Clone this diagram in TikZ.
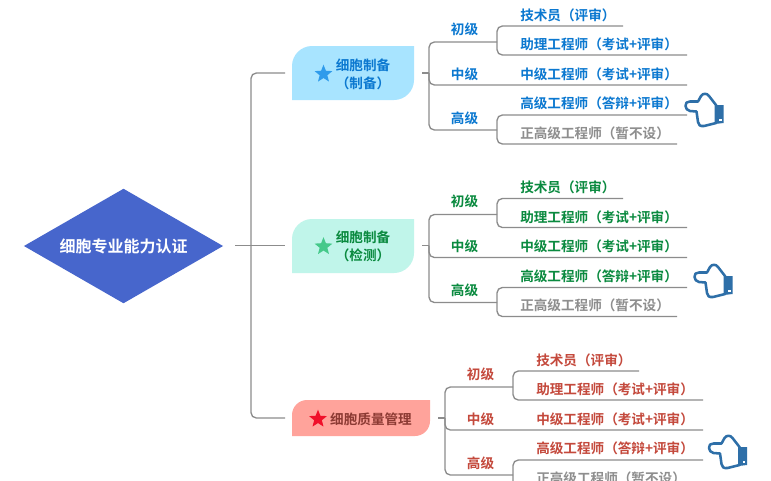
\documentclass[tikz,border=0pt]{standalone}
\usepackage{fontspec}
\setmainfont{Noto Sans CJK SC}[BoldFont={Noto Sans CJK SC Bold}]
\usetikzlibrary{shapes.geometric}
\definecolor{linegray}{HTML}{8C8C8C}
\definecolor{leafgray}{HTML}{8E8E8E}
\definecolor{blueT}{HTML}{0B78D0}
\definecolor{greenT}{HTML}{0A8A3F}
\definecolor{redT}{HTML}{C4493C}
\definecolor{handblue}{HTML}{2E6FA8}
\definecolor{rootfill}{RGB}{71,102,204}
\definecolor{boxA}{RGB}{168,228,255}
\definecolor{boxB}{RGB}{192,245,234}
\definecolor{boxC}{RGB}{255,163,155}
\tikzset{
  conn/.style={draw=linegray,line width=1pt,rounded corners=4pt},
  leaf/.style={anchor=west,inner sep=0pt,font=\fontsize{10.2}{12}\selectfont\bfseries},
  lvl/.style={anchor=center,inner sep=0pt,font=\fontsize{10.2}{12}\selectfont\bfseries},
  boxtext/.style={inner sep=0pt,align=center,font=\fontsize{10.2}{13.5}\selectfont\bfseries},
  starmark/.style={star,star points=5,star point ratio=2.3,inner sep=0pt,minimum size=14pt},
}
% #1 prefix, #2 colour, #3 shift
\newcommand{\branches}[3]{%
\begin{scope}[shift={#3}]
  \coordinate (#1stub) at (422,73);
  \coordinate (#1sp) at (429,73);
  \coordinate (#1top) at (429,42);
  \coordinate (#1bot) at (429,130);
  \coordinate (#1mid) at (429,85);
  \coordinate (#1a) at (497,42);
  \coordinate (#1c) at (497,130);
  \coordinate (#1e1) at (623,26);
  \coordinate (#1e2) at (687,55);
  \coordinate (#1e3) at (687,85);
  \coordinate (#1e4) at (687,115);
  \coordinate (#1e5) at (677,144);
  \draw[conn] (#1stub) -- (#1sp);
  \draw[conn] (#1a) -- (#1top) -- (#1bot) -- (#1c);
  \draw[conn] (#1sp) -- (#1mid) -- (#1e3);
  \draw[conn] (#1e1) -- (#1a |- #1e1) -- (#1a |- #1e2) -- (#1e2);
  \draw[conn] (#1e4) -- (#1c |- #1e4) -- (#1c |- #1e5) -- (#1e5);
  \node[lvl,text=#2] (#1L1) at (464.5,29) {初级};
  \node[lvl,text=#2] (#1L2) at (464.5,74) {中级};
  \node[lvl,text=#2] (#1L3) at (464.5,118) {高级};
  \node[leaf,text=#2] (#1n1) at (520,15) {技术员（评审）};
  \node[leaf,text=#2] (#1n2) at (520,44.5) {助理工程师（考试+评审）};
  \node[leaf,text=#2] (#1n3) at (520,74) {中级工程师（考试+评审）};
  \node[leaf,text=#2] (#1n4) at (520,103.5) {高级工程师（答辩+评审）};
  \node[leaf,text=leafgray] (#1n5) at (520,133) {正高级工程师（暂不设）};
\end{scope}}
% box with two rounded corners: #1 colour, #2 left, #3 top, #4 right, #5 bottom, #6 radius
\newcommand{\leafbox}[6]{%
  \fill[#1] (#2,#5) -- (#2,#3+#6) .. controls (#2,#3+0.45*#6) and (#2+0.45*#6,#3) .. (#2+#6,#3)
    -- (#4,#3) -- (#4,#5-#6) .. controls (#4,#5-0.45*#6) and (#4-0.45*#6,#5) .. (#4-#6,#5) -- cycle;}
% hand icon: #1 = shift
\newcommand{\handicon}[1]{%
\begin{scope}[shift={#1}]
  \draw[handblue,line width=1.9pt,fill=white,line join=round]
    (46.5,25) .. controls (46,22) and (48,20.5) .. (51,20.5)
    -- (59,20.5) -- (62,15) .. controls (64,12) and (68,12) .. (70,15)
    -- (77,24) -- (77,42) -- (65,45) .. controls (61,45.5) and (59.5,44) .. (59,41)
    -- (57.5,30.5) -- (51,30) .. controls (48,29.5) and (47,27.5) .. (46.5,25) -- cycle;
  \fill[handblue] (76,24) -- (84.5,24) -- (84.5,42) -- (76,43) -- cycle;
  \fill[white] (80,37.5) rectangle (82.5,40);
\end{scope}}
\begin{document}
\begin{tikzpicture}[x=0.75pt,y=-0.75pt]
\clip (0,0) rectangle (771,480);
\fill[white] (0,0) rectangle (771,480);
% root
\node[diamond,shape aspect=1.287,inner sep=0pt,minimum width=149.5pt,fill=rootfill,text=white,font=\fontsize{12}{14}\selectfont\bfseries] (root) at (123.5,246) {细胞专业能力认证};
% spine
\coordinate (rs) at (235,245.5);
\coordinate (re) at (285,245.5);
\coordinate (st) at (285,73);
\coordinate (sb) at (285,418);
\coordinate (sx) at (251,245.5);
\draw[conn] (rs) -- (re);
\draw[conn] (st) -- (sx |- st) -- (sx |- sb) -- (sb);
% group 1
\leafbox{boxA}{292}{46}{414}{100}{20}
\node[starmark,fill={rgb,255:red,47;green,155;blue,235}] (s1) at (323.5,74) {};
\node[boxtext,text=blueT] (b1) at (363,74.2) {细胞制备\\（制备）};
\branches{a}{blueT}{(0,0)}
\handicon{(639,81)}
% group 2
\leafbox{boxB}{292}{219}{414}{273}{20}
\node[starmark,fill={rgb,255:red,69;green,201;blue,138}] (s2) at (323.5,246.5) {};
\node[boxtext,text=greenT] (b2) at (363,246.5) {细胞制备\\（检测）};
\branches{b}{greenT}{(0,172.5)}
\handicon{(648,252)}
% group 3
\leafbox{boxC}{292}{400}{430}{436}{15}
\node[starmark,fill={rgb,255:red,240;green,16;blue,42}] (s3) at (318,419) {};
\node[boxtext,text={rgb,255:red,140;green,58;blue,51}] (b3) at (371,419) {细胞质量管理};
\branches{c}{redT}{(16,345)}
\handicon{(662.5,423)}
\end{tikzpicture}
\end{document}
